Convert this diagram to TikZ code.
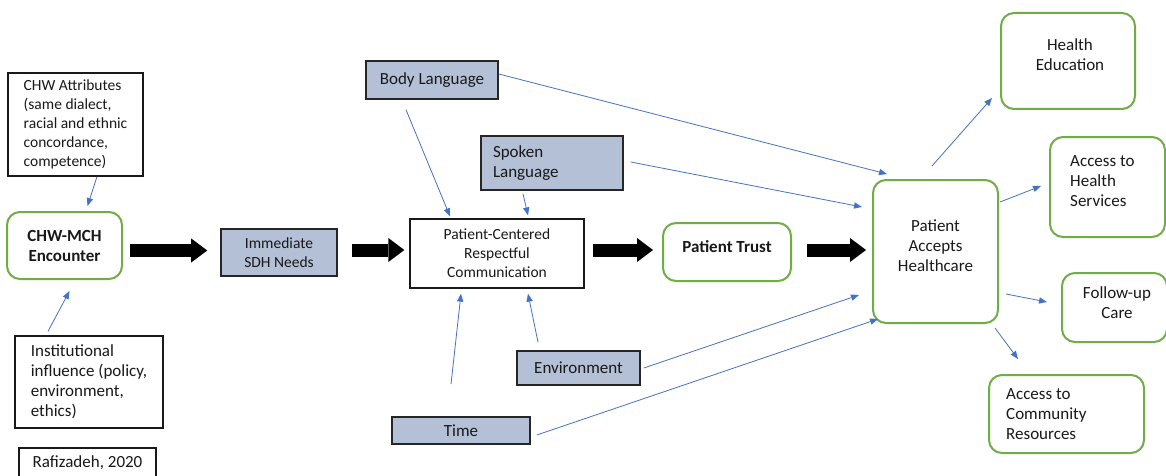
\documentclass[tikz,border=0pt]{standalone}
\usepackage{fontspec}
\setmainfont{Carlito}
\usetikzlibrary{arrows.meta}

\definecolor{linkblue}{HTML}{4472C4}
\definecolor{boxgreen}{HTML}{70AD47}
\definecolor{slatefill}{RGB}{180,192,214}

\tikzset{
  base/.style={inner sep=0pt, align=center, text=black!90},
  greenbox/.style={base, draw=boxgreen, line width=2pt, rounded corners=13pt, fill=white},
  slatebox/.style={base, draw=black!85, line width=1.6pt, fill=slatefill},
  plainbox/.style={base, draw=black!90, line width=1.3pt, fill=white},
  bigtext/.style={font=\fontsize{17}{20}\selectfont},
  boldtext/.style={font=\fontsize{17}{20}\selectfont\bfseries},
  smalltext/.style={font=\fontsize{15.5}{19}\selectfont},
  label text/.style={inner sep=0pt, text=black!90},
  link/.style={draw=linkblue, line width=0.8pt, -{Triangle[length=8pt,width=6.5pt,line width=0pt]}},
  thrust/.style={draw=black, line width=13pt, -{Triangle[length=16pt,width=24pt,line width=0pt]}},
}

\begin{document}
\begin{tikzpicture}[x=1pt,y=-1pt]
  \useasboundingbox[fill=white] (0,0) rectangle (1166,476);

  % left column
  \node[plainbox, smalltext, align=left, minimum width=135, minimum height=103] (attr) at (75.5,124.5)
    {CHW Attributes\\(same dialect,\\racial and ethnic\\concordance,\\competence)};
  \node[greenbox, boldtext, minimum width=115, minimum height=67] (chw) at (64.5,245.5)
    {CHW-MCH\\Encounter};
  \node[plainbox, bigtext, align=left, minimum width=148, minimum height=92] (inst) at (89,382)
    {Institutional\\influence (policy,\\environment,\\ethics)};
  \node[plainbox, bigtext, minimum width=137, minimum height=29] (raf) at (87.5,462.5)
    {Rafizadeh, 2020};

  % middle
  \node[slatebox, smalltext, minimum width=116, minimum height=47] (imm) at (279,252.5)
    {Immediate\\SDH Needs};
  \node[slatebox, bigtext, minimum width=132, minimum height=38] (body) at (432,80)
    {Body Language};
  \node[slatebox, bigtext, align=left, text width=118, minimum width=142, minimum height=54] (spoken) at (552,163)
    {Spoken\\Language};
  \node[plainbox, smalltext, minimum width=174, minimum height=69] (pc) at (497,253.5)
    {Patient-Centered\\Respectful\\Communication};
  \node[slatebox, bigtext, minimum width=123, minimum height=34] (env) at (578.5,368)
    {Environment};
  \node[slatebox, bigtext, minimum width=138, minimum height=27] (time) at (461,430.5)
    {Time};

  % trust and acceptance
  \node[greenbox, minimum width=128, minimum height=58] (pt) at (727,252) {};
  \node[label text, boldtext] (pt-t) at (727,247) {Patient Trust};
  \node[greenbox, minimum width=125, minimum height=143] (pa) at (935.5,251.5) {};
  \node[label text, bigtext, align=center] (pa-t) at (935.5,246) {Patient\\Accepts\\Healthcare};

  % outcomes
  \node[greenbox, minimum width=134, minimum height=96] (he) at (1068,61) {};
  \node[label text, bigtext, align=center] (he-t) at (1070,55) {Health\\Education};
  \node[greenbox, minimum width=115, minimum height=100] (ahs) at (1107.5,187) {};
  \node[label text, bigtext, align=left, anchor=west] (ahs-t) at (1070,181.5) {Access to\\Health\\Services};
  \node[greenbox, minimum width=105, minimum height=69] (fu) at (1114.5,307.5) {};
  \node[label text, bigtext, align=center] (fu-t) at (1117,302.5) {Follow-up\\Care};
  \node[greenbox, minimum width=155, minimum height=78] (acr) at (1066.5,414) {};
  \node[label text, bigtext, align=left, anchor=west] (acr-t) at (1006,414) {Access to\\Community\\Resources};

  % main flow
  \draw[thrust] ([shift={(7,5)}]chw.east) -- ([shift={(-13,-2)}]imm.west);
  \draw[thrust] ([shift={(14,-2.5)}]imm.east) -- ([shift={(-5,-3.5)}]pc.west);
  \draw[thrust] ([shift={(8,-3.5)}]pc.east) -- ([shift={(-9,-2)}]pt.west);
  \draw[thrust] ([shift={(15,-2)}]pt.east) -- ([shift={(-6,-1.5)}]pa.west);

  % influences
  \draw[link] ([shift={(21.5,0)}]attr.south) -- ([shift={(23,-5)}]chw.north);
  \draw[link] ([shift={(-41,-4)}]inst.north) -- ([shift={(5,11)}]chw.south);
  \draw[link] ([shift={(-26,10)}]body.south) -- ([shift={(-47,-2)}]pc.north);
  \draw[link] ([shift={(-29,3)}]spoken.south) -- ([shift={(31,-3)}]pc.north);
  \draw[link] ([shift={(-10,-32)}]time.north) -- ([shift={(-36,5)}]pc.south);
  \draw[link] ([shift={(-40.5,-8)}]env.north) -- ([shift={(31,5)}]pc.south);
  \draw[link] ([shift={(0,-6)}]body.east) -- ([shift={(-48.5,-5)}]pa.north);
  \draw[link] ([shift={(7,-1)}]spoken.east) -- ([shift={(-10,-44.5)}]pa.west);
  \draw[link] ([shift={(3,0)}]env.east) -- ([shift={(-13,43.5)}]pa.west);
  \draw[link] ([shift={(6,4.5)}]time.east) -- ([shift={(-57.5,-5)}]pa.south);

  % outcomes of acceptance
  \draw[link] ([shift={(-3.5,-13)}]pa.north) -- ([shift={(-8,37)}]he.west);
  \draw[link] ([shift={(1,-49.5)}]pa.east) -- ([shift={(-8,-1)}]ahs.west);
  \draw[link] ([shift={(7,42.5)}]pa.east) -- ([shift={(-14,-5.5)}]fu.west);
  \draw[link] ([shift={(-4,4)}]pa.south east) -- ([shift={(-48.5,-15)}]acr.north);
\end{tikzpicture}
\end{document}
